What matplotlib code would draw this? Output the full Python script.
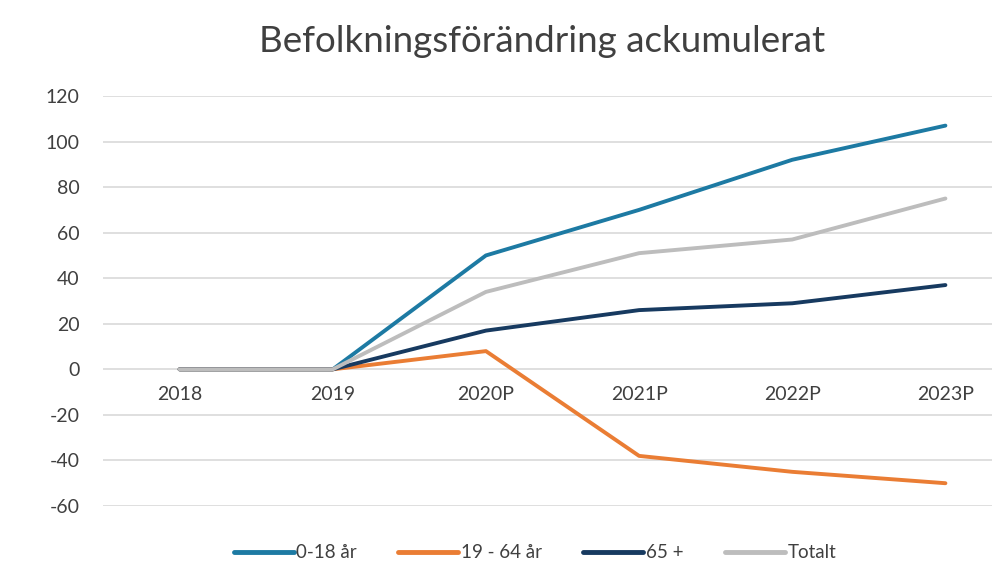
import matplotlib
matplotlib.use("Agg")
import matplotlib.pyplot as plt

plt.rcParams['font.family'] = ['Lato', 'DejaVu Sans']
plt.rcParams['axes.unicode_minus'] = False

# data
years = ["2018", "2019", "2020P", "2021P", "2022P", "2023P"]
barn = [0, 0, 50, 70, 92, 107]          # 0-18 år
vuxna = [0, 0, 8, -38, -45, -50]        # 19 - 64 år
aldre = [0, 0, 17, 26, 29, 37]          # 65 +
totalt = [0, 0, 34, 51, 57, 75]         # Totalt

series = [
    ("0-18 år", barn, "#1d7aa3"),
    ("19 - 64 år", vuxna, "#ea7d34"),
    ("65 +", aldre, "#173a60"),
    ("Totalt", totalt, "#bdbdbd"),
]

fig = plt.figure(figsize=(9.92, 5.70), dpi=100)
ax = fig.add_axes([103 / 992, 1 - 506 / 570, 919 / 992, 410 / 570])

x = range(len(years))
lines = []
for name, vals, col in series:
    ln, = ax.plot(x, vals, color=col, lw=2.8, solid_capstyle='round',
                  solid_joinstyle='round', label=name, zorder=3)
    lines.append(ln)
# grey total drawn on top for the flat start like the original
lines[3].set_zorder(4)

ax.set_xlim(-0.5, 5.5)
ax.set_ylim(-60, 120)
ax.set_yticks(range(-60, 121, 20))
ax.grid(axis='y', color='#d9d9d9', lw=1.2)
ax.set_axisbelow(True)
for s in ax.spines.values():
    s.set_visible(False)

ax.spines['bottom'].set_position(('data', 0))
ax.set_xticks(list(x))
ax.set_xticklabels(years)
ax.tick_params(axis='x', length=0, pad=12, labelsize=14, labelcolor='#404040')
ax.tick_params(axis='y', length=0, pad=17, labelsize=14, labelcolor='#404040')

fig.text(542 / 992, 1 - 42 / 570, "Befolkningsförändring ackumulerat",
         ha='center', va='center', fontsize=26.5, color='#404040')

fig.legend(handles=lines, loc='center', bbox_to_anchor=(535 / 992, 1 - 553 / 570),
           ncol=4, frameon=False, fontsize=13.5, handlelength=3.2,
           handletextpad=0.15, columnspacing=2.2, labelcolor='#404040')
for h in fig.legends[0].get_lines():
    h.set_linewidth(3.5)

fig.savefig("out.png", dpi=100)
